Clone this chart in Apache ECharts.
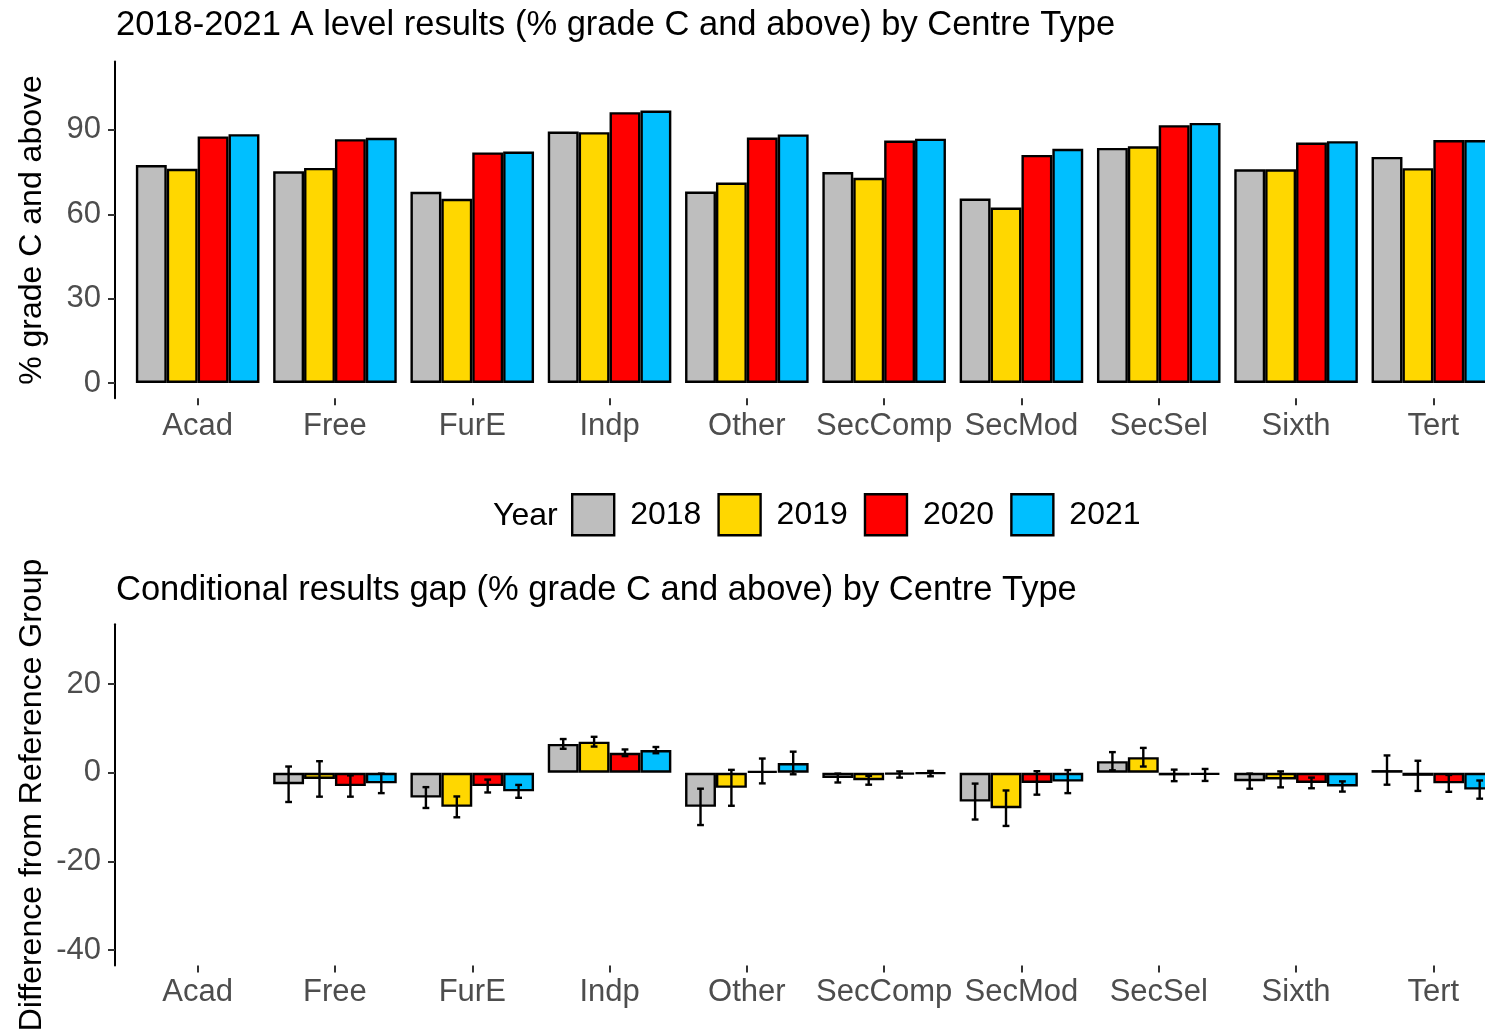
<!DOCTYPE html>
<html>
<head>
<meta charset="utf-8">
<script src="https://cdn.jsdelivr.net/npm/echarts@6.0.0/dist/echarts.min.js"></script>
<style>
html, body { margin: 0; padding: 0; overflow: hidden; background: #fff; }
#main { width: 1540px; height: 1030px; }
</style>
</head>
<body>
<div id="main"></div>
<script>
// centre types and years
const centreTypes = ['Acad', 'Free', 'FurE', 'Indp', 'Other', 'SecComp', 'SecMod', 'SecSel', 'Sixth', 'Tert'];
const years = ['2018', '2019', '2020', '2021'];
const yearColors = ['#BEBEBE', '#FFD700', '#FF0000', '#00BFFF'];

// % grade C and above
const pass2018 = [77.5, 75.3, 68.0, 89.4, 68.1, 75.0, 65.6, 83.6, 76.0, 80.4];
const pass2019 = [76.2, 76.5, 65.5, 89.2, 71.3, 73.0, 62.4, 84.2, 76.0, 76.4];
const pass2020 = [87.7, 86.7, 82.0, 96.3, 87.3, 86.2, 81.1, 91.7, 85.5, 86.4];
const pass2021 = [88.5, 87.2, 82.3, 96.9, 88.4, 86.9, 83.3, 92.5, 86.0, 86.4];

// conditional gap vs reference group (Acad) and error half widths
const gap2018 = [null, -2.6, -5.6, 6.5, -7.7, -1.2, -6.5, 2.6, -1.9, 0.6];
const gap2019 = [null, -1.4, -7.7, 7.0, -3.4, -1.7, -8.0, 3.5, -1.5, -0.7];
const gap2020 = [null, -3.0, -3.0, 4.5, 0.4, -0.4, -2.3, -0.6, -2.3, -2.4];
const gap2021 = [null, -2.4, -4.2, 5.1, 2.2, -0.2, -2.0, -0.5, -3.1, -3.8];
const err2018 = [null, 4.0, 2.35, 1.1, 4.1, 1.0, 4.05, 2.05, 1.7, 3.3];
const err2019 = [null, 4.0, 2.35, 1.1, 4.05, 1.0, 4.0, 2.1, 1.8, 3.4];
const err2020 = [null, 2.4, 1.45, 0.75, 2.8, 0.7, 2.65, 1.3, 1.2, 1.9];
const err2021 = [null, 2.2, 1.45, 0.7, 2.55, 0.6, 2.6, 1.35, 1.15, 2.05];

// tick labels
const topTicks = [0, 30, 60, 90];
const bottomTicks = [-40, -20, 0, 20];

const passData = [pass2018, pass2019, pass2020, pass2021];
const gapData = [gap2018, gap2019, gap2020, gap2021];
const errData = [err2018, err2019, err2020, err2021];

const FONT = 'Liberation Sans';
const myChart = echarts.init(document.getElementById('main'));

function xAxisCfg(gridIndex, margin) {
	return {
		type: 'category',
		gridIndex: gridIndex,
		data: centreTypes,
		axisLine: { show: false, onZero: false },
		axisTick: {
			show: true,
			alignWithLabel: true,
			length: 7,
			lineStyle: { color: '#333', width: 2 }
		},
		axisLabel: {
			color: '#4D4D4D',
			fontSize: 31,
			fontFamily: FONT,
			margin: margin,
			interval: 0
		},
		splitLine: { show: false }
	};
}

function yAxisCfg(gridIndex, min, max, ticks) {
	return {
		type: 'value',
		gridIndex: gridIndex,
		min: min,
		max: max,
		offset: 14,
		axisLine: { show: true, lineStyle: { color: '#000', width: 2 } },
		axisTick: {
			show: true,
			length: 7,
			customValues: ticks,
			lineStyle: { color: '#333', width: 2 }
		},
		axisLabel: {
			color: '#4D4D4D',
			fontSize: 31,
			fontFamily: FONT,
			margin: 14,
			customValues: ticks
		},
		splitLine: { show: false }
	};
}

let series = [];
for (let i = 0; i < years.length; i++) {
	series.push({
		name: years[i],
		type: 'bar',
		xAxisIndex: 0,
		yAxisIndex: 0,
		barGap: '0%',
		barCategoryGap: '10%',
		itemStyle: { color: yearColors[i], borderColor: '#000', borderWidth: 2.4 },
		data: passData[i]
	});
}
for (let i = 0; i < years.length; i++) {
	series.push({
		name: years[i],
		type: 'bar',
		xAxisIndex: 1,
		yAxisIndex: 1,
		barGap: '0%',
		barCategoryGap: '10%',
		itemStyle: { color: yearColors[i], borderColor: '#000', borderWidth: 2.4 },
		data: gapData[i]
	});
}
// error bars, one custom series per year, dodged like the bars
for (let i = 0; i < years.length; i++) {
	let errRows = [];
	for (let j = 0; j < centreTypes.length; j++) {
		if (gapData[i][j] == null) continue;
		errRows.push([j, gapData[i][j] - errData[i][j], gapData[i][j] + errData[i][j]]);
	}
	series.push({
		name: 'err' + years[i],
		type: 'custom',
		xAxisIndex: 1,
		yAxisIndex: 1,
		encode: { x: 0, y: [1, 2] },
		z: 5,
		renderItem: function (params, api) {
			let band = api.size([1, 0])[0];
			let bw = band * 0.9 / 4;
			let off = (i - 1.5) * bw;
			let lo = api.coord([api.value(0), api.value(1)]);
			let hi = api.coord([api.value(0), api.value(2)]);
			let x = lo[0] + off;
			let cap = bw * 0.11;
			let style = { stroke: '#000', lineWidth: 2.4 };
			return {
				type: 'group',
				children: [
					{ type: 'line', shape: { x1: x, y1: lo[1], x2: x, y2: hi[1] }, style: style },
					{ type: 'line', shape: { x1: x - cap, y1: lo[1], x2: x + cap, y2: lo[1] }, style: style },
					{ type: 'line', shape: { x1: x - cap, y1: hi[1], x2: x + cap, y2: hi[1] }, style: style }
				]
			};
		},
		data: errRows
	});
}

let option = {
	animation: false,
	backgroundColor: '#fff',
	textStyle: { fontFamily: FONT },
	title: [{
		text: '2018-2021 A level results (% grade C and above) by Centre Type',
		left: 116,
		top: 8,
		padding: 0,
		textStyle: { fontSize: 34.5, fontWeight: 'normal', color: '#000', fontFamily: FONT }
	}, {
		text: 'Conditional results gap (% grade C and above) by Centre Type',
		left: 116,
		top: 573,
		padding: 0,
		textStyle: { fontSize: 34.5, fontWeight: 'normal', color: '#000', fontFamily: FONT }
	}],
	legend: {
		data: years,
		left: 566,
		top: 488,
		icon: 'rect',
		itemWidth: 42,
		itemHeight: 41,
		itemGap: 16,
		itemStyle: { borderColor: '#000', borderWidth: 2.4 },
		textStyle: { fontSize: 32, color: '#000', fontFamily: FONT, padding: [0, 0, 0, 11] }
	},
	graphic: [{
		type: 'text',
		x: 493,
		y: 516,
		style: { text: 'Year', fontSize: 32, fill: '#000', fontFamily: FONT, verticalAlign: 'middle' }
	}, {
		type: 'text',
		x: 32,
		y: 230,
		rotation: Math.PI / 2,
		style: { text: '% grade C and above', fontSize: 32, fill: '#000', fontFamily: FONT, align: 'center', verticalAlign: 'middle' }
	}, {
		type: 'text',
		x: 32,
		y: 795,
		rotation: Math.PI / 2,
		style: { text: 'Difference from Reference Group', fontSize: 32, fill: '#000', fontFamily: FONT, align: 'center', verticalAlign: 'middle' }
	}],
	grid: [
		{ left: 129, width: 1373, top: 61.6, height: 336.6, outerBoundsMode: 'none' },
		{ left: 129, width: 1373, top: 624.2, height: 341.4, outerBoundsMode: 'none' }
	],
	xAxis: [xAxisCfg(0, 13), xAxisCfg(1, 11)],
	yAxis: [yAxisCfg(0, -5.4, 114.3, topTicks), yAxisCfg(1, -43.5, 33.5, bottomTicks)],
	series: series
};
myChart.setOption(option);
</script>
</body>
</html>
